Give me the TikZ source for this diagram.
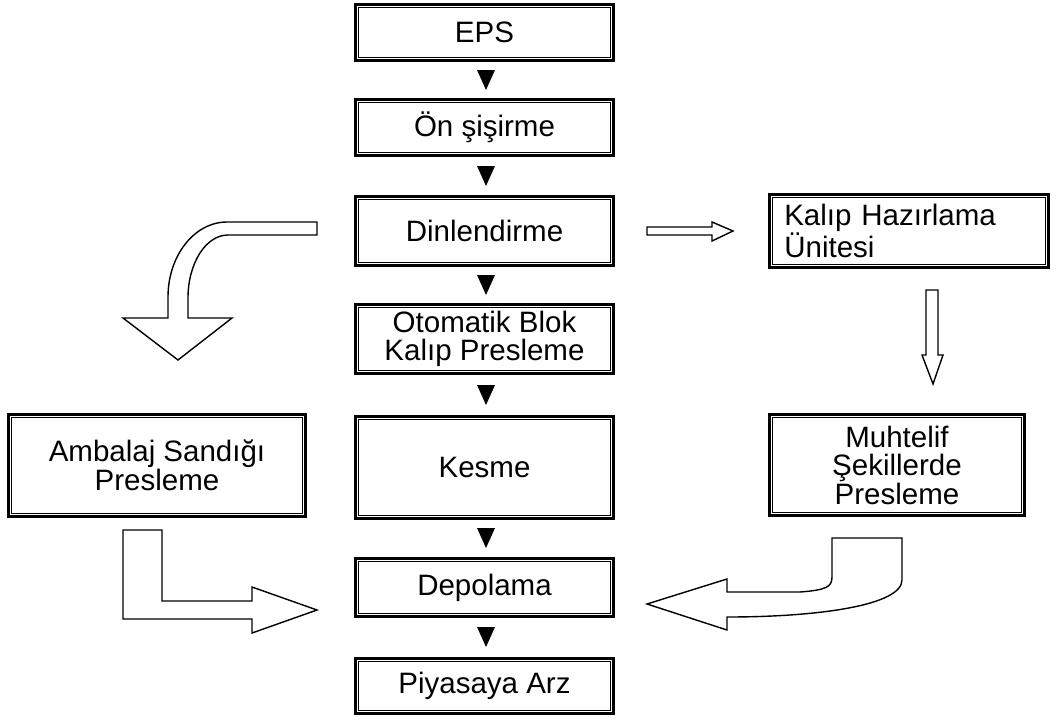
\documentclass[tikz,border=0pt]{standalone}
\usepackage{fontspec}
\setmainfont{Liberation Sans}
\begin{document}
\begin{tikzpicture}[x=1pt,y=-1pt,
  dbox/.style={draw, line width=2.6pt, inner sep=0pt, align=center,
    font=\fontsize{29.5}{28.5}\selectfont,
    path picture={\draw[line width=1pt]
      ([xshift=3.6pt,yshift=-3.6pt]path picture bounding box.north west) rectangle
      ([xshift=-3.6pt,yshift=3.6pt]path picture bounding box.south east);}},
  blockarrow/.style={draw, line width=1.4pt, fill=white, line join=miter},
  tri/.style={fill=black}]
\useasboundingbox (0,0) rectangle (1056,720);

% central column
\node[dbox, minimum width=258.4pt, minimum height=56.4pt] (eps) at (484.5,32.5) {EPS};
\node[dbox, minimum width=258.4pt, minimum height=56.4pt] (on) at (484.5,127.5) {Ön şişirme};
\node[dbox, minimum width=258.4pt, minimum height=69.4pt] (din) at (484.5,231) {Dinlendirme};
\node[dbox, minimum width=258.4pt, minimum height=69.4pt] (oto) at (484.5,339) {Otomatik Blok\\Kalıp Presleme};
\node[dbox, minimum width=258.4pt, minimum height=102.4pt] (kes) at (484.5,467.5) {Kesme};
\node[dbox, minimum width=258.4pt, minimum height=58.4pt] (dep) at (484.5,587.5) {Depolama};
\node[dbox, minimum width=258.4pt, minimum height=55.4pt] (piy) at (484.5,686) {Piyasaya Arz};

% side boxes
\node[dbox, minimum width=297.4pt, minimum height=102.4pt] (amb) at (157,465.5) {Ambalaj Sandığı\\Presleme};
\node[dbox, align=left, text width=249.4pt, inner xsep=15pt, minimum height=73.4pt] (kal) at (909,231) {Kalıp Hazırlama\\Ünitesi};
\node[dbox, minimum width=255.4pt, minimum height=101.4pt] (muh) at (897,465) {Muhtelif\\Şekillerde\\Presleme};

% small filled triangles between central boxes
\foreach \yy in {80,176,285,395,538,637}
  \fill[tri] (477,\yy-10) -- (495,\yy-10) -- (486,\yy+10) -- cycle;

% right arrow Dinlendirme -> Kalip
\draw[blockarrow] (647,227) -- (712,227) -- (712,222) -- (733,231) -- (712,241) -- (712,235) -- (647,235) -- cycle;

% down arrow Kalip -> Muhtelif
\draw[blockarrow] (926,290) -- (938,290) -- (938,355) -- (943,355) -- (933,384) -- (922,355) -- (926,355) -- cycle;

% curved arrow from Dinlendirme down to the left
\draw[blockarrow] (317,222) -- (227,222) .. controls (194.4,222) and (168,255.6) .. (168,297)
  -- (168,318) -- (123,318) -- (178,360) -- (232,318) -- (188,318) -- (188,298)
  .. controls (188,263.2) and (205.9,235) .. (228,235) -- (317,235) -- cycle;

% L arrow Ambalaj -> Depolama
\draw[blockarrow] (123,530) -- (123,619) -- (252,619) -- (252,633) -- (317,610) -- (252,587)
  -- (252,601) -- (162,601) -- (162,530) -- cycle;

% curved arrow Muhtelif -> Depolama
\draw[blockarrow] (902,538) -- (902,580) .. controls (902,605) and (820,617) .. (727,617)
  -- (727,630) -- (647,604) -- (727,579) -- (727,592) -- (800,592)
  .. controls (826,590) and (832,587) .. (832,577) -- (832,538) -- cycle;
\end{tikzpicture}
\end{document}
